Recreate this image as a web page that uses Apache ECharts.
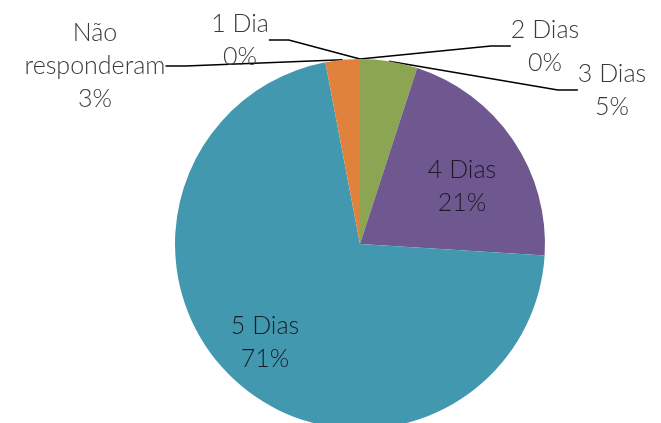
<!DOCTYPE html>
<html><head><meta charset="utf-8">
<script src="https://cdn.jsdelivr.net/npm/echarts@6/dist/echarts.min.js"></script>
<style>html,body{margin:0;padding:0;background:#fff}#c{width:661px;height:423px}</style>
</head><body><div id="c"></div>
<script>
const categories = ['1 Dia', '2 Dias', '3 Dias', '4 Dias', '5 Dias', 'Não responderam'];
const values = [0, 0, 5, 21, 71, 3];
const percentLabels = ['0%', '0%', '5%', '21%', '71%', '3%'];
const labelNames = ['1 Dia', '2 Dias', '3 Dias', '4 Dias', '5 Dias', 'Não\nresponderam'];
const colors = ['#4F81BD', '#C0504D', '#8BA552', '#6F578F', '#4298AF', '#E0823C'];
const labelPos = [[240, 40], [545, 46], [612, 90], [462, 186], [265, 342], [95, 66]];
const insideIdx = [3, 4];

const chart = echarts.init(document.getElementById('c'), null, {renderer: 'canvas'});
chart.setOption({
  animation: false,
  series: [{
    type: 'pie',
    center: [360, 244],
    radius: 185,
    startAngle: 90,
    clockwise: true,
    minShowLabelAngle: 0,
    avoidLabelOverlap: false,
    data: categories.map((c, i) => ({
      name: c, value: values[i],
      itemStyle: {color: colors[i]},
      label: {
        formatter: labelNames[i] + '\n' + percentLabels[i],
        color: insideIdx.includes(i) ? '#1c1c28' : '#3a3a3a'
      },
      labelLine: {show: !insideIdx.includes(i)}
    })),
    label: {
      show: true,
      position: 'outside',
      fontFamily: 'Lato',
      fontWeight: 300,
      fontSize: 25,
      lineHeight: 33,
      align: 'center'
    },
    labelLine: {
      show: true,
      length: 20, length2: 20,
      lineStyle: {color: '#000', width: 1.6}
    },
    labelLayout: function (p) {
      const pos = labelPos[p.dataIndex];
      return {x: pos[0], y: pos[1], align: 'center', verticalAlign: 'middle'};
    },
    itemStyle: {borderWidth: 0}
  }]
});
</script></body></html>
